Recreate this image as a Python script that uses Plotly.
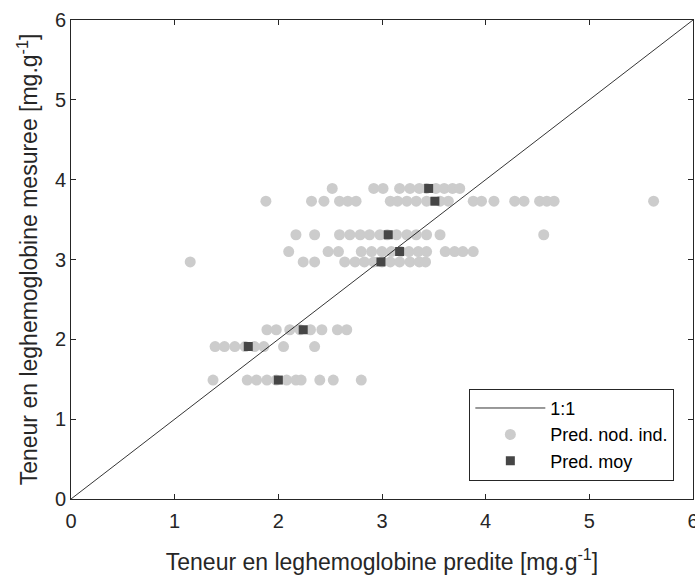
import plotly.graph_objects as go

# Measured leghemoglobin content of each group [mg.g-1]
mesure = [3.89, 3.73, 3.31, 3.10, 2.97, 2.12, 1.91, 1.49]

# Predicted content of each individual nodule, one list per measured group
pred_389 = [2.52, 2.92, 3.01, 3.17, 3.27, 3.36, 3.43, 3.52, 3.60, 3.68, 3.75]
pred_373 = [1.88, 2.32, 2.44, 2.59, 2.67, 2.75, 3.08, 3.15, 3.24, 3.33, 3.43,
            3.56, 3.64, 3.88, 3.96, 4.08, 4.28, 4.37, 4.52, 4.59, 4.66, 5.62]
pred_331 = [2.17, 2.35, 2.59, 2.69, 2.79, 2.88, 2.98, 3.05, 3.14, 3.24, 3.33,
            3.43, 3.56, 4.56]
pred_310 = [2.10, 2.48, 2.58, 2.80, 2.90, 3.00, 3.09, 3.18, 3.26, 3.35, 3.43,
            3.61, 3.70, 3.78, 3.88]
pred_297 = [1.15, 2.24, 2.35, 2.64, 2.74, 2.83, 2.92, 3.00, 3.08, 3.17, 3.27,
            3.36, 3.42]
pred_212 = [1.89, 1.98, 2.11, 2.21, 2.31, 2.42, 2.57, 2.66]
pred_191 = [1.39, 1.48, 1.58, 1.68, 1.77, 1.86, 2.05, 2.35]
pred_149 = [1.37, 1.70, 1.79, 1.89, 1.98, 2.08, 2.17, 2.22, 2.40, 2.53, 2.80]

pred_groupes = [pred_389, pred_373, pred_331, pred_310,
                pred_297, pred_212, pred_191, pred_149]

# Mean prediction of each group
pred_moy = [3.45, 3.51, 3.06, 3.17, 2.99, 2.24, 1.71, 2.00]

# 1:1 reference line
ligne_x = [0, 6]
ligne_y = [0, 6]

ind_x, ind_y = [], []
for niveau, preds in zip(mesure, pred_groupes):
    ind_x += preds
    ind_y += [niveau] * len(preds)

FONT = "Liberation Sans, Arial, sans-serif"
AXIS_COLOR = "#262626"

fig = go.Figure()

fig.add_trace(go.Scatter(
    x=ind_x, y=ind_y, mode="markers", name="Pred. nod. ind.",
    marker=dict(symbol="circle", size=11, color="#cccccc"),
    legendrank=2,
))
fig.add_trace(go.Scatter(
    x=ligne_x, y=ligne_y, mode="lines", name="1:1",
    line=dict(color="black", width=0.8),
    legendrank=1,
))
fig.add_trace(go.Scatter(
    x=pred_moy, y=mesure, mode="markers", name="Pred. moy",
    marker=dict(symbol="square", size=9, color="#464646"),
    legendrank=3,
))

axis_style = dict(
    range=[0, 6], dtick=1, showgrid=False, zeroline=False,
    ticks="inside", ticklen=5, tickwidth=1, tickcolor=AXIS_COLOR,
    showline=True, linecolor=AXIS_COLOR, linewidth=1, mirror="ticks",
    tickfont=dict(family=FONT, size=20, color=AXIS_COLOR),
    automargin=False, ticklabeloverflow="allow",
)

fig.update_layout(
    width=695, height=577,
    margin=dict(l=71, r=2, t=20, b=78),
    plot_bgcolor="white", paper_bgcolor="white",
    font=dict(family=FONT, color=AXIS_COLOR),
    xaxis=dict(axis_style, ticklabelstandoff=4,
               title=dict(text="Teneur en leghemoglobine predite [mg.g<sup>-1</sup>]",
                          font=dict(family=FONT, size=23, color=AXIS_COLOR),
                          standoff=22)),
    yaxis=dict(axis_style,
               title=dict(text="Teneur en leghemoglobine mesuree [mg.g<sup>-1</sup>]",
                          font=dict(family=FONT, size=23, color=AXIS_COLOR),
                          standoff=10)),
    showlegend=True,
    legend=dict(
        x=0.97, y=0.038, xanchor="right", yanchor="bottom",
        bgcolor="white", bordercolor=AXIS_COLOR, borderwidth=1,
        font=dict(family=FONT, size=18, color="black"),
        itemwidth=70,
    ),
)

# drop the default page margin so the figure sits at the window origin
fig.write_html("out.html",
               config={"displayModeBar": False},
               post_script="document.body.style.margin='0';"
                           "document.body.style.overflow='hidden';")
